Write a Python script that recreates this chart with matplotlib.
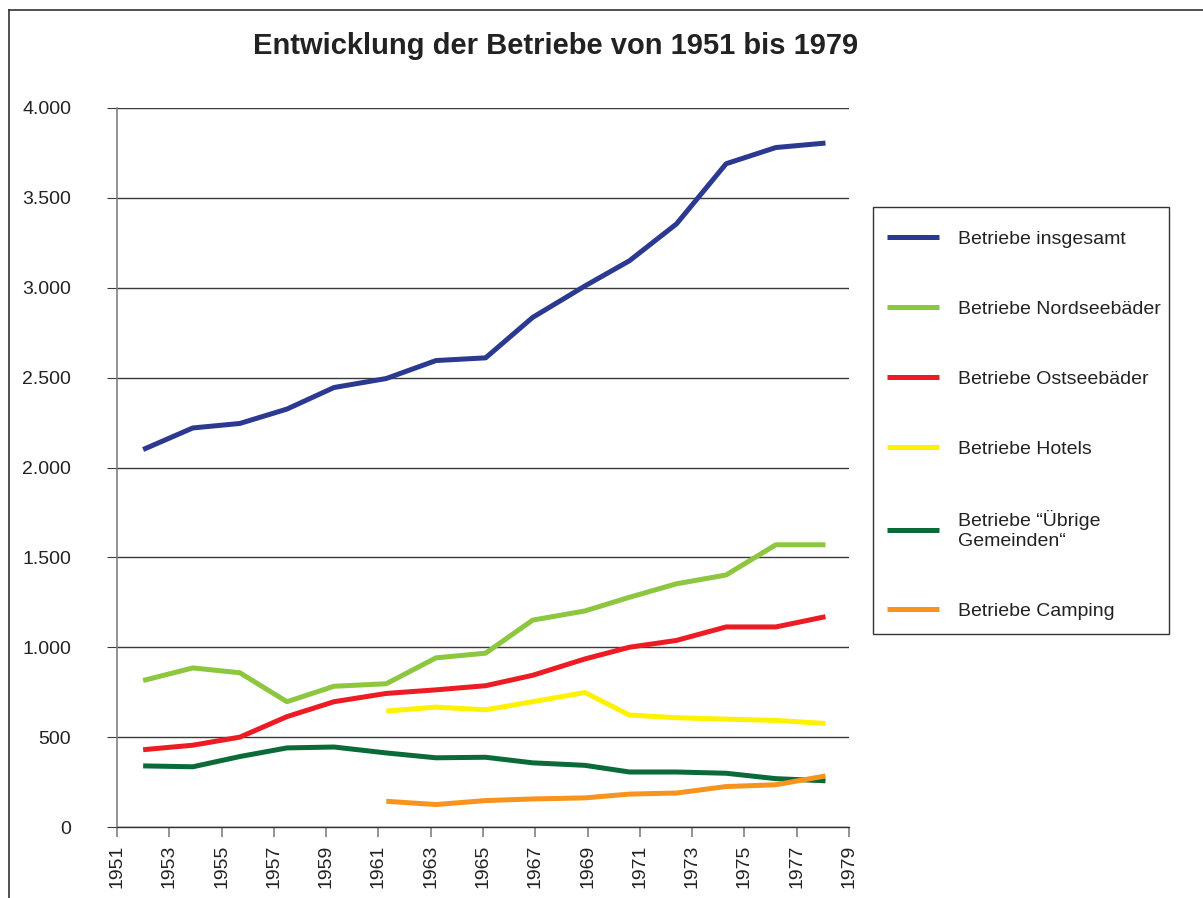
import numpy as np
import matplotlib
matplotlib.use('Agg')
import matplotlib.pyplot as plt
from matplotlib.ticker import FuncFormatter, MultipleLocator
from matplotlib.lines import Line2D
from matplotlib.patches import Rectangle

plt.rcParams.update({'font.family': ['Liberation Sans', 'DejaVu Sans']})

# positions of the data points on the year axis
years = [1952.0, 1953.9, 1955.7, 1957.5, 1959.3, 1961.3, 1963.2, 1965.1,
         1966.9, 1968.9, 1970.6, 1972.4, 1974.3, 1976.2, 1978.1]
nan = np.nan
insgesamt = [2100, 2220, 2245, 2325, 2445, 2495, 2595, 2610, 2835, 3010, 3150, 3355, 3690, 3780, 3805]
nordsee = [815, 885, 858, 697, 783, 797, 941, 967, 1151, 1202, 1278, 1353, 1402, 1570, 1570]
ostsee = [430, 455, 500, 614, 697, 743, 763, 786, 844, 935, 1000, 1038, 1113, 1113, 1170]
hotels = [nan, nan, nan, nan, nan, 645, 667, 652, 697, 748, 623, 608, 600, 593, 576]
uebrige = [340, 335, 392, 440, 445, 412, 385, 388, 357, 343, 306, 306, 299, 269, 257]
camping = [nan, nan, nan, nan, nan, 143, 125, 147, 156, 162, 183, 189, 225, 235, 284]
tick_years = list(range(1951, 1980, 2))

series = [
    ('Betriebe insgesamt', insgesamt, '#2B3990'),
    ('Betriebe Nordseebäder', nordsee, '#8DC63F'),
    ('Betriebe Ostseebäder', ostsee, '#ED1C24'),
    ('Betriebe Hotels', hotels, '#FFF200'),
    ('Betriebe \u201c\u00dcbrige\nGemeinden\u201c', uebrige, '#0B6B38'),
    ('Betriebe Camping', camping, '#F7941D'),
]

W, H = 1203, 898
fig = plt.figure(figsize=(W / 100, H / 100), dpi=100)
ax = fig.add_axes([117 / W, 1 - 827 / H, (849 - 117) / W, (827 - 108) / H])

for label, vals, col in series:
    ax.plot(years, vals, color=col, lw=3.6, solid_capstyle='butt', label=label)

ax.set_xlim(1951, 1979)
ax.set_ylim(0, 4000)
ax.set_xticks(tick_years)
ax.yaxis.set_major_locator(MultipleLocator(500))
ax.yaxis.set_major_formatter(FuncFormatter(lambda v, p: f'{v:,.0f}'.replace(',', '.')))
ax.grid(axis='y', color='#3a3a3a', lw=1.0)
ax.set_axisbelow(True)

for s in ['top', 'right']:
    ax.spines[s].set_visible(False)
ax.spines['left'].set_color('#808080')
ax.spines['left'].set_linewidth(1.2)
ax.spines['bottom'].set_color('#333333')
ax.spines['bottom'].set_linewidth(1.0)
ax.tick_params(axis='y', length=7, color='#3a3a3a', pad=26, labelsize=14, labelcolor='#222222')
ax.tick_params(axis='x', length=7, color='#808080', width=1.2, pad=6, labelsize=14,
               labelcolor='#222222', labelrotation=90)

fig.text(556 / W, 1 - 46 / H, 'Entwicklung der Betriebe von 1951 bis 1979',
         ha='center', va='center', fontsize=21, fontweight='bold', color='#222222')

# legend without its own frame; the box is drawn separately
leg = ax.legend(loc='upper left', bbox_to_anchor=(887 / W, 1 - 230 / H),
                bbox_transform=fig.transFigure, borderaxespad=0, fontsize=14,
                handlelength=2.65, handletextpad=1.0, labelspacing=2.7,
                borderpad=0, frameon=False)
for t in leg.get_texts():
    t.set_color('#222222')
    t.set_linespacing(1.2)
fig.add_artist(Rectangle((873 / W, 1 - 634 / H), (1169 - 873) / W, (634 - 207) / H,
                         transform=fig.transFigure, facecolor='none',
                         edgecolor='#333333', lw=1.0))

# outer frame (only top and left edges fall inside the picture)
fig.add_artist(Line2D([9 / W, 9 / W], [0, 1 - 9.5 / H], transform=fig.transFigure,
                      color='#333333', lw=1.2))
fig.add_artist(Line2D([9 / W, 1], [1 - 9.5 / H, 1 - 9.5 / H], transform=fig.transFigure,
                      color='#333333', lw=1.2))

fig.savefig('out.png', dpi=100)
